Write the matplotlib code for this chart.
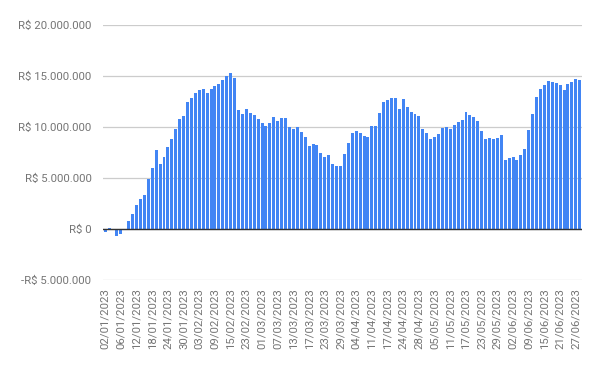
import pandas as pd
import matplotlib
matplotlib.use("Agg")
import matplotlib.pyplot as plt
from matplotlib.ticker import FuncFormatter

# daily values in millions of R$
values = [
    -0.26, 0.10, 0.02, -0.65, -0.46, -0.13, 0.75, 1.47, 2.32, 2.94,
    3.33, 4.90, 5.98, 7.75, 6.37, 7.06, 8.04, 8.82, 9.80, 10.78,
    11.05, 12.45, 12.84, 13.33, 13.63, 13.73, 13.33, 13.73, 14.05, 14.20,
    14.60, 15.03, 15.30, 14.80, 11.67, 11.27, 11.76, 11.37, 11.18, 10.78,
    10.39, 10.10, 10.39, 10.98, 10.59, 10.88, 10.88, 10.00, 9.80, 10.00,
    9.50, 9.02, 8.14, 8.33, 8.24, 7.45, 7.06, 7.25, 6.37, 6.18,
    6.18, 7.35, 8.43, 9.41, 9.61, 9.41, 9.12, 9.02, 10.10, 10.10,
    11.37, 12.45, 12.65, 12.84, 12.84, 11.76, 12.75, 11.96, 11.47, 11.27,
    11.08, 9.80, 9.41, 8.82, 9.02, 9.31, 9.90, 10.00, 9.80, 10.20,
    10.49, 10.69, 11.47, 11.18, 10.98, 10.59, 9.61, 8.82, 8.92, 8.82,
    8.92, 9.22, 6.76, 6.96, 7.06, 6.76, 7.25, 7.84, 9.71, 11.27,
    12.94, 13.73, 14.12, 14.51, 14.41, 14.31, 14.12, 13.63, 14.22, 14.41,
    14.71, 14.61,
]

# B3 trading days: weekdays minus the market holidays of the period
holidays = ["2023-02-20", "2023-02-21", "2023-04-07", "2023-04-21",
            "2023-05-01", "2023-06-08"]
days = pd.bdate_range("2023-01-02", "2023-06-30", freq="C", holidays=holidays)
days = days[:len(values)]
labels = [d.strftime("%d/%m/%Y") for d in days]

yticks = [-5, 0, 5, 10, 15, 20]


def brl(v, pos):
    if v == 0:
        return "R$ 0"
    s = f"{abs(v) * 1e6:,.0f}".replace(",", ".")
    return ("-R$ " if v < 0 else "R$ ") + s


plt.rcParams["font.family"] = ["Roboto", "DejaVu Sans"]

fig = plt.figure(figsize=(6, 3.71), dpi=100)
ax = fig.add_axes([0.172, 0.2453, 0.7975, 0.6873])

x = range(len(values))
ax.bar(x, values, width=0.76, color="#4285F4", zorder=3)

ax.set_ylim(-5, 20)
ax.set_xlim(-0.5, len(values) - 0.5)
ax.set_yticks(yticks)
ax.yaxis.set_major_formatter(FuncFormatter(brl))
ax.grid(axis="y", color="#cccccc", linewidth=0.9, zorder=0)
ax.axhline(0, color="#333333", linewidth=1.0, zorder=4)

ax.set_xticks(list(x)[::4])
ax.set_xticklabels(labels[::4], rotation=90)

for s in ax.spines.values():
    s.set_visible(False)
ax.tick_params(axis="y", length=0, pad=8.5, labelsize=8.2, labelcolor="#757575")
ax.tick_params(axis="x", length=0, pad=6, labelsize=8.2, labelcolor="#757575")

fig.savefig("out.png", dpi=100)
